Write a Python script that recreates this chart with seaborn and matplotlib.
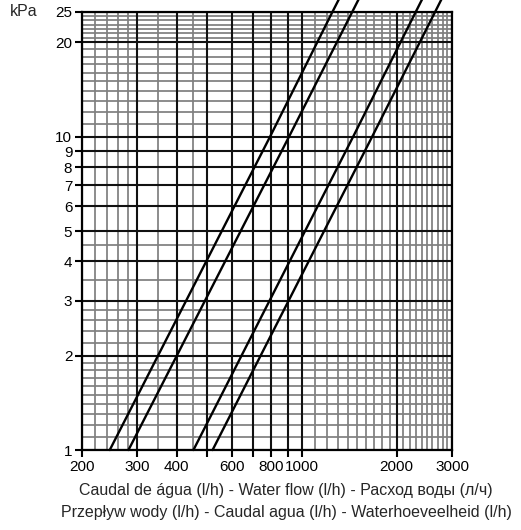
import numpy as np
import pandas as pd
import seaborn as sns
import matplotlib
matplotlib.use("Agg")
import matplotlib.pyplot as plt
from matplotlib.ticker import FixedLocator, FixedFormatter, NullLocator

# Pressure drop (kPa) at which each curve's flow was read
pressure_kpa = [1, 10, 25, 28]
# Water flow (l/h) for the four curves
flow_a = [245, 792, 1250, 1324]
flow_b = [281, 910, 1445, 1530]
flow_c = [452, 1455, 2300, 2435]
flow_d = [520, 1672, 2650, 2805]
curve_names = ["a", "b", "c", "d"]

# Axis ticks and labels
x_ticks = [200, 300, 400, 500, 600, 700, 800, 900, 1000, 2000, 3000]
x_tick_labels = ["200", "300", "400", "", "600", "", "800", "", "1000", "2000", "3000"]
y_ticks = [1, 2, 3, 4, 5, 6, 7, 8, 9, 10, 20, 25]
y_tick_labels = ["1", "2", "3", "4", "5", "6", "7", "8", "9", "10", "20", "25"]

# Fine grid of the nomogram
x_grid_minor = ([220, 240, 260, 280, 350, 450]
                + list(range(1100, 2000, 100)) + list(range(2100, 3000, 100)))
y_grid_minor = ([1.1, 1.2, 1.3, 1.4, 1.5, 1.6, 1.7, 1.8, 1.9,
                 2.2, 2.4, 2.6, 2.8, 3.5, 4.5]
                + list(range(11, 20)) + [20.7, 21.4, 22.1, 22.8, 23.5, 24.2])

xlabel_1 = "Caudal de água (l/h) - Water flow (l/h) - Расход воды (л/ч)"
xlabel_2 = "Przepływ wody (l/h) - Caudal agua (l/h) - Waterhoeveelheid (l/h)"

frames = []
for name, flows in zip(curve_names, [flow_a, flow_b, flow_c, flow_d]):
    frames.append(pd.DataFrame({"flow": flows, "dp": pressure_kpa, "curve": name}))
df = pd.concat(frames, ignore_index=True)

sns.set_theme(style="white")
plt.rcParams["font.family"] = ["Liberation Sans", "DejaVu Sans"]

fig = plt.figure(figsize=(5.21, 5.30), dpi=100)
ax = fig.add_axes([0.1574, 0.1509, 0.7102, 0.8265])
ax.set_xscale("log")
ax.set_yscale("log")

for v in x_grid_minor:
    ax.axvline(v, color="#7f7f7f", lw=1.25, zorder=1)
for v in y_grid_minor:
    ax.axhline(v, color="#7f7f7f", lw=1.25, zorder=1)
for v in x_ticks:
    ax.axvline(v, color="#111111", lw=1.5, zorder=1.5)
for v in y_ticks:
    ax.axhline(v, color="#111111", lw=1.5, zorder=1.5)

sns.lineplot(data=df, x="flow", y="dp", hue="curve", units="curve",
             estimator=None, palette=["black"] * 4, lw=1.7,
             legend=False, sort=False, ax=ax, zorder=3)
for ln in ax.get_lines()[-4:]:
    ln.set_clip_on(False)

ax.set_xlim(200, 3000)
ax.set_ylim(1, 25)
ax.xaxis.set_major_locator(FixedLocator(x_ticks))
ax.xaxis.set_major_formatter(FixedFormatter(x_tick_labels))
ax.xaxis.set_minor_locator(NullLocator())
ax.yaxis.set_major_locator(FixedLocator(y_ticks))
ax.yaxis.set_major_formatter(FixedFormatter(y_tick_labels))
ax.yaxis.set_minor_locator(NullLocator())
ax.tick_params(axis="both", which="major", direction="out", length=5, width=1.5,
               color="black", labelsize=11, labelcolor="black", pad=2,
               bottom=True, left=True)
ax.set_xlabel("")
ax.set_ylabel("")
for side in ["left", "bottom", "right", "top"]:
    ax.spines[side].set_color("black")
    ax.spines[side].set_linewidth(1.6)

fig.text(10 / 521, 1 - 12 / 530, "kPa", ha="left", va="center", fontsize=11.5)
fig.text(286 / 521, 1 - 491 / 530, xlabel_1, ha="center", va="center", fontsize=11.5)
fig.text(286 / 521, 1 - 512 / 530, xlabel_2, ha="center", va="center", fontsize=11.5)

fig.savefig("out.png", dpi=100)
